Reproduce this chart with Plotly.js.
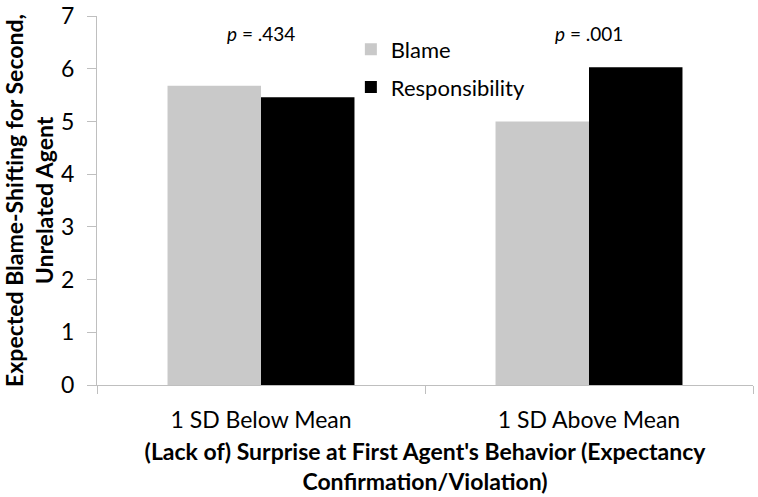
<!DOCTYPE html>
<html>
<head>
<meta charset="utf-8">
<script src="https://cdn.plot.ly/plotly-3.0.1.min.js"></script>
<style>
  html, body { margin: 0; padding: 0; background: #fff; }
  #chart { width: 758px; height: 497px; }
</style>
</head>
<body>
<div id="chart"></div>
<script>
// groups on the x axis
var categories = ['1 SD Below Mean', '1 SD Above Mean'];
// expected blame-shifting values
var blameValues = [5.68, 5.00];
var responsibilityValues = [5.46, 6.03];
// p values shown above each pair
var pLabels = ['.434', '.001'];
var pLabelY = 6.67;
var yTicks = [0, 1, 2, 3, 4, 5, 6, 7];

function BlameChart(element) {
    var _element = element;
    var axisGrey = '#bfbfbf';

    var data = [
        {
            type: 'bar',
            x: categories,
            y: blameValues,
            name: 'Blame',
            legendgroup: 'a',
            marker: { color: '#c9c9c9' }
        },
        {
            type: 'bar',
            x: categories,
            y: responsibilityValues,
            name: 'Responsibility',
            legendgroup: 'b',
            marker: { color: '#000000' }
        }];

    var annotations = categories.map(function (c, i) {
        return {
            x: c,
            y: pLabelY,
            xref: 'x',
            yref: 'y',
            text: '<i>p</i> = ' + pLabels[i],
            showarrow: false,
            font: { family: 'Lato, sans-serif', size: 19, color: '#000' }
        };
    });

    var layout = {
        width: 758,
        height: 497,
        margin: { l: 97, r: 5, t: 16, b: 112 },
        paper_bgcolor: '#fff',
        plot_bgcolor: '#fff',
        barmode: 'group',
        bargap: 0.43,
        bargroupgap: 0,
        showlegend: true,
        legend: {
            x: 0.387,
            y: 0.966,
            xanchor: 'left',
            yanchor: 'top',
            bgcolor: 'rgba(0,0,0,0)',
            tracegroupgap: 6,
            font: { family: 'Lato, sans-serif', size: 22, color: '#000' }
        },
        xaxis: {
            type: 'category',
            showline: true,
            linecolor: axisGrey,
            linewidth: 1,
            ticks: 'outside',
            tickson: 'boundaries',
            ticklen: 8,
            tickcolor: axisGrey,
            ticklabelstandoff: 14,
            showgrid: false,
            tickfont: { family: 'Lato, sans-serif', size: 23, color: '#000' },
            title: {
                text: '(Lack of) Surprise at First Agent\'s Behavior (Expectancy<br>Confirmation/Violation)',
                standoff: 12,
                font: { family: 'Lato, sans-serif', size: 23, color: '#000', weight: 'bold' }
            }
        },
        yaxis: {
            range: [0, 7.001],
            tickmode: 'array',
            tickvals: yTicks,
            showline: true,
            linecolor: axisGrey,
            linewidth: 1,
            ticks: 'outside',
            ticklen: 9,
            tickcolor: axisGrey,
            ticklabelstandoff: 8,
            ticklabeloverflow: 'allow',
            showgrid: false,
            zeroline: false,
            tickfont: { family: 'Lato, sans-serif', size: 23, color: '#000' },
            title: {
                text: 'Expected Blame-Shifting for Second,<br>Unrelated Agent',
                standoff: 6,
                font: { family: 'Lato, sans-serif', size: 23, color: '#000', weight: 'bold' }
            }
        },
        annotations: annotations
    };

    Plotly.newPlot(_element, data, layout, { displayModeBar: false, responsive: false });
}

BlameChart(document.getElementById('chart'));
</script>
</body>
</html>
